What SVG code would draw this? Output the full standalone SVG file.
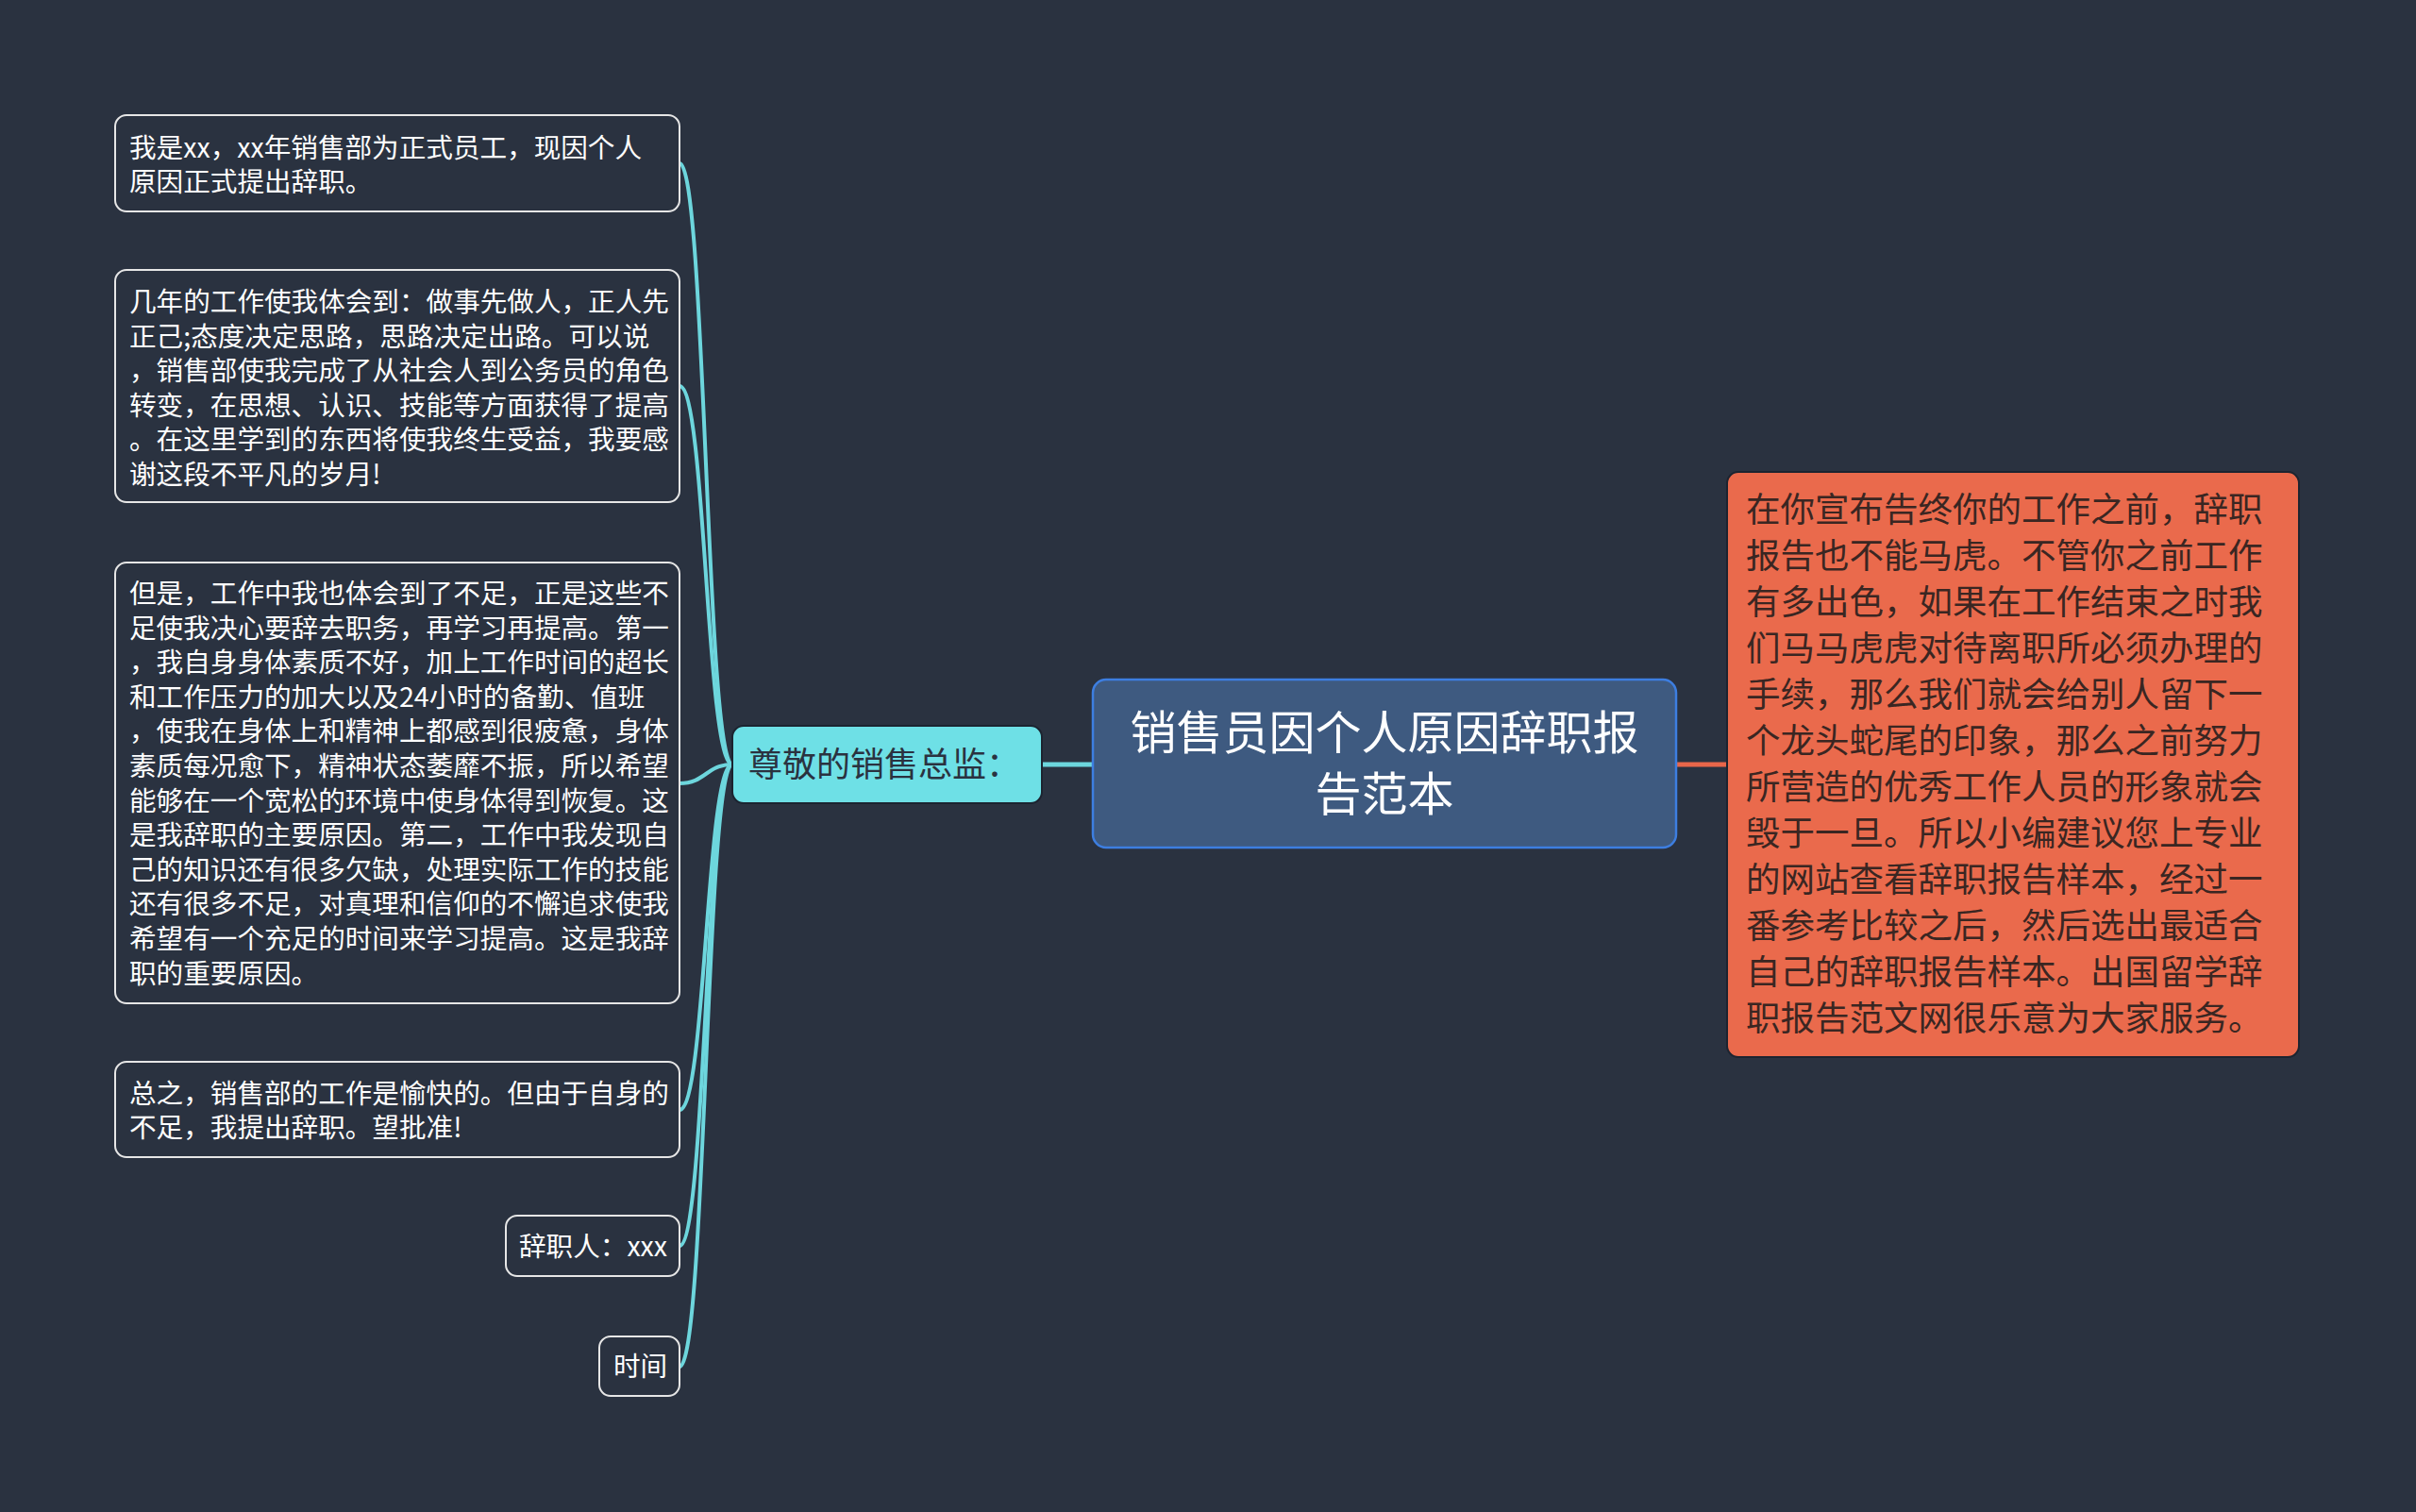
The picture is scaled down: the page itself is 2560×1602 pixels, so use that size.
<svg xmlns="http://www.w3.org/2000/svg" width="2560" height="1602" viewBox="0 0 2560 1602">
<style>
.bg{fill:#2a3240}
.leaf rect{fill:#2a3240;stroke:#e6e6e6;stroke-width:2}
.leaf text{font-family:"Noto Sans CJK SC","Noto Sans",sans-serif;font-size:28.6px;fill:#ffffff}
.conn path{fill:none;stroke:#6dd6dd;stroke-width:4;stroke-linecap:round}
.sub rect{fill:#6ee0e6;stroke:#1c2430;stroke-width:2}
.sub text{font-family:"Noto Sans CJK SC","Noto Sans",sans-serif;font-size:36px;fill:#2a3240}
.root rect{fill:#3e5a80;stroke:#3d7ee0;stroke-width:2.5}
.root text{font-family:"Noto Sans CJK SC","Noto Sans",sans-serif;font-size:49px;fill:#ffffff;text-anchor:middle}
.right rect{fill:#ea6a4c;stroke:#1c2430;stroke-width:2}
.right text{font-family:"Noto Sans CJK SC","Noto Sans",sans-serif;font-size:36.5px;fill:#3a2622}
</style>
<rect class="bg" x="0" y="0" width="2560" height="1602"/>
<g class="conn" id="connectors">
<path d="M776 810 C748 810 748 173 720 173"/>
<path d="M776 810 C748 810 748 409 720 409"/>
<path d="M776 810 C748 810 748 830 720 830"/>
<path d="M776 810 C748 810 748 1176 720 1176"/>
<path d="M776 810 C748 810 748 1320 720 1320"/>
<path d="M776 810 C748 810 748 1448 720 1448"/>
<path d="M1104 810 L1158 810" style="stroke-width:5"/>
<path d="M1776 810 L1830 810" style="stroke:#e8664a;stroke-width:5"/>
</g>
<g class="root" id="root">
<rect x="1158" y="720" width="618" height="178" rx="14"/>
<text x="1467" y="794">销售员因个人原因辞职报</text>
<text x="1467" y="859">告范本</text>
</g>
<g class="sub" id="sub-left">
<rect x="776" y="769" width="328" height="82" rx="12"/>
<text x="793" y="823">尊敬的销售总监：</text>
</g>
<g class="right" id="right-note">
<rect x="1830" y="500" width="606" height="620" rx="12"/>
<text x="1850" y="553">在你宣布告终你的工作之前，辞职</text>
<text x="1850" y="602">报告也不能马虎。不管你之前工作</text>
<text x="1850" y="651">有多出色，如果在工作结束之时我</text>
<text x="1850" y="700">们马马虎虎对待离职所必须办理的</text>
<text x="1850" y="749">手续，那么我们就会给别人留下一</text>
<text x="1850" y="798">个龙头蛇尾的印象，那么之前努力</text>
<text x="1850" y="847">所营造的优秀工作人员的形象就会</text>
<text x="1850" y="896">毁于一旦。所以小编建议您上专业</text>
<text x="1850" y="945">的网站查看辞职报告样本，经过一</text>
<text x="1850" y="994">番参考比较之后，然后选出最适合</text>
<text x="1850" y="1043">自己的辞职报告样本。出国留学辞</text>
<text x="1850" y="1092">职报告范文网很乐意为大家服务。</text>
</g>
<g class="leaf" id="leaf1">
<rect x="122" y="122" width="598" height="102" rx="12"/>
<text x="137" y="167">我是xx，xx年销售部为正式员工，现因个人</text>
<text x="137" y="203">原因正式提出辞职。</text>
</g>
<g class="leaf" id="leaf2">
<rect x="122" y="286" width="598" height="246" rx="12"/>
<text x="137" y="330">几年的工作使我体会到：做事先做人，正人先</text>
<text x="137" y="366.6">正己;态度决定思路，思路决定出路。可以说</text>
<text x="137" y="403.2">，销售部使我完成了从社会人到公务员的角色</text>
<text x="137" y="439.8">转变，在思想、认识、技能等方面获得了提高</text>
<text x="137" y="476.4">。在这里学到的东西将使我终生受益，我要感</text>
<text x="137" y="513">谢这段不平凡的岁月!</text>
</g>
<g class="leaf" id="leaf3">
<rect x="122" y="596" width="598" height="467" rx="12"/>
<text x="137" y="639">但是，工作中我也体会到了不足，正是这些不</text>
<text x="137" y="675.6">足使我决心要辞去职务，再学习再提高。第一</text>
<text x="137" y="712.2">，我自身身体素质不好，加上工作时间的超长</text>
<text x="137" y="748.8">和工作压力的加大以及24小时的备勤、值班</text>
<text x="137" y="785.4">，使我在身体上和精神上都感到很疲惫，身体</text>
<text x="137" y="822">素质每况愈下，精神状态萎靡不振，所以希望</text>
<text x="137" y="858.6">能够在一个宽松的环境中使身体得到恢复。这</text>
<text x="137" y="895.2">是我辞职的主要原因。第二，工作中我发现自</text>
<text x="137" y="931.8">己的知识还有很多欠缺，处理实际工作的技能</text>
<text x="137" y="968.4">还有很多不足，对真理和信仰的不懈追求使我</text>
<text x="137" y="1005">希望有一个充足的时间来学习提高。这是我辞</text>
<text x="137" y="1041.6">职的重要原因。</text>
</g>
<g class="leaf" id="leaf4">
<rect x="122" y="1125" width="598" height="101" rx="12"/>
<text x="137" y="1169">总之，销售部的工作是愉快的。但由于自身的</text>
<text x="137" y="1205">不足，我提出辞职。望批准!</text>
</g>
<g class="leaf" id="leaf5">
<rect x="536" y="1288" width="184" height="64" rx="12"/>
<text x="550" y="1331">辞职人：xxx</text>
</g>
<g class="leaf" id="leaf6">
<rect x="635" y="1416" width="85" height="63" rx="12"/>
<text x="650" y="1458">时间</text>
</g>
</svg>
